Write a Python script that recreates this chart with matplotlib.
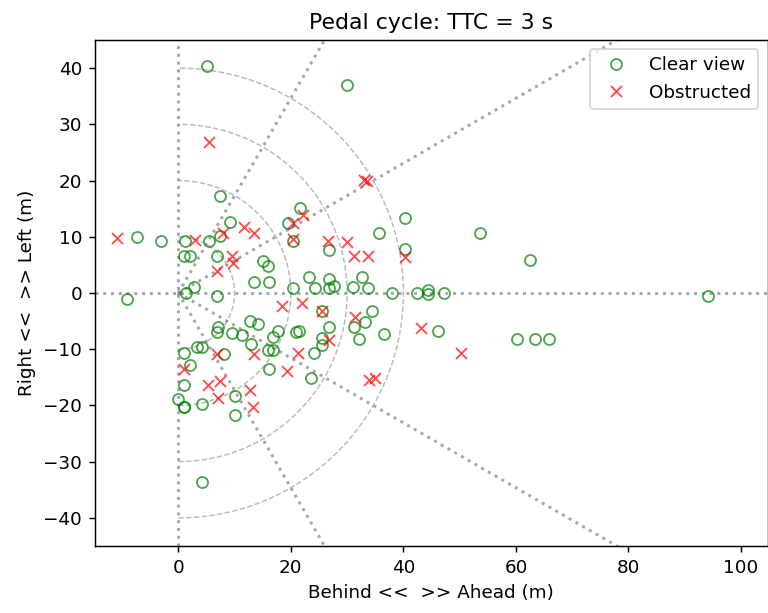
import numpy as np
from matplotlib import pyplot as plt

# positions relative to the ego vehicle (m): x ahead, y left
clear_x = [5.15, 30.0, 7.4, 21.7, 19.5, 40.2, 35.7, -7.4, -3.1, 1.2, 5.4, 7.4, 9.2, 20.3, 26.8, 40.2,
           1.1, 2.0, 6.9, 15.1, 16.0, 13.5, 16.2, 2.8, 1.3, 6.8, -9.2, 20.3, 23.2, 24.3, 26.8, 26.8,
           27.6, 31.1, 32.7, 33.7, 37.9, 42.4, 44.4, 44.4, 47.3, 53.7, 62.5, 94.1, 46.1, 36.6, 60.2,
           63.4, 65.9, 25.5, 34.35, 33.2, 31.2, 32.2, 12.7, 14.2, 7.0, 6.9, 9.5, 11.4, 13.0, 16.9,
           17.8, 16.0, 16.9, 21.0, 21.5, 26.8, 25.5, 25.6, 24.1, 16.1, 23.5, 8.2, 1.0, 3.3, 4.2,
           2.1, 1.0, 0.0, 1.1, 1.1, 4.2, 10.0, 10.0, 4.3]
clear_y = [40.3, 37.0, 17.3, 15.1, 12.5, 13.4, 10.7, 9.9, 9.2, 9.2, 9.2, 10.2, 12.6, 9.3, 7.7, 7.85,
           6.5, 6.5, 6.5, 5.65, 4.85, 1.9, 1.9, 1.0, 0.0, -0.5, -1.1, 0.9, 2.85, 0.9, 2.5, 0.9,
           1.3, 1.15, 2.9, 0.9, 0.0, 0.0, 0.5, -0.15, 0.0, 10.7, 5.8, -0.5, -6.7, -7.3, -8.1,
           -8.1, -8.1, -3.2, -3.2, -5.2, -6.1, -8.1, -4.9, -5.6, -6.0, -6.9, -7.1, -7.5, -9.0, -7.8,
           -6.8, -10.1, -10.1, -7.0, -6.8, -6.1, -8.0, -9.2, -10.7, -13.5, -15.1, -10.8, -10.7, -9.6, -9.6,
           -12.8, -16.3, -18.8, -20.3, -20.3, -19.8, -18.4, -21.7, -33.6]

obstructed_x = [5.45, 33.0, 33.6, 20.3, 22.2, -10.9, 3.0, 8.0, 11.7, 13.45, 20.3, 26.6, 30.0, 31.3,
                33.7, 40.2, 9.5, 9.8, 6.8, 18.5, 22.0, 25.5, 31.4, 43.1, 50.2, 26.8, 21.2, 19.25,
                13.4, 6.8, 1.0, 5.3, 7.5, 7.1, 12.7, 13.35, 33.8, 34.9]
obstructed_y = [26.8, 20.1, 19.9, 12.4, 13.9, 9.7, 9.4, 10.65, 11.7, 10.75, 9.6, 9.2, 9.0, 6.5,
                6.5, 6.4, 6.6, 5.4, 4.0, -2.4, -1.8, -3.2, -4.2, -6.2, -10.75, -8.3, -10.75, -13.85,
                -10.8, -10.8, -13.5, -16.4, -15.6, -18.6, -17.25, -20.3, -15.5, -15.05]

radii = [10, 20, 30, 40]
angles = [-60, -30, 30, 60]

fig = plt.figure(figsize=(768 / 132, 613 / 132), dpi=132)
ax = fig.add_axes([95 / 768, 67 / 613, 672.5 / 768, 506 / 613])

# polar-ish guide grid
ax.axhline(0, color='gray', linestyle=':', linewidth=1.6, alpha=0.7, zorder=0)
ax.axvline(0, color='gray', linestyle=':', linewidth=1.6, alpha=0.7, zorder=0)
for a in angles:
    t = np.deg2rad(a)
    ax.plot([0, 200 * np.cos(t)], [0, 200 * np.sin(t)], color='gray', linestyle=':',
            linewidth=1.6, alpha=0.7, zorder=0)
th = np.linspace(-np.pi / 2, np.pi / 2, 200)
for r in radii:
    ax.plot(r * np.cos(th), r * np.sin(th), color='gray', linestyle='--', linewidth=0.8,
            alpha=0.55, zorder=0)

ax.plot(clear_x, clear_y, 'o', mfc='none', mec='g', alpha=0.7, label='Clear view', linestyle='none')
ax.plot(obstructed_x, obstructed_y, 'x', color='r', alpha=0.7, label='Obstructed', linestyle='none')

ax.set_xlim(-14.8, 104.7)
ax.set_ylim(-45, 45)
ax.set_xticks([0, 20, 40, 60, 80, 100])
ax.set_yticks([-40, -30, -20, -10, 0, 10, 20, 30, 40])
ax.set_title('Pedal cycle: TTC = 3 s')
ax.set_xlabel('Behind <<  >> Ahead (m)')
ax.set_ylabel('Right <<  >> Left (m)')
ax.legend(loc='upper right')

plt.savefig('out.png', dpi=132)
plt.close()
